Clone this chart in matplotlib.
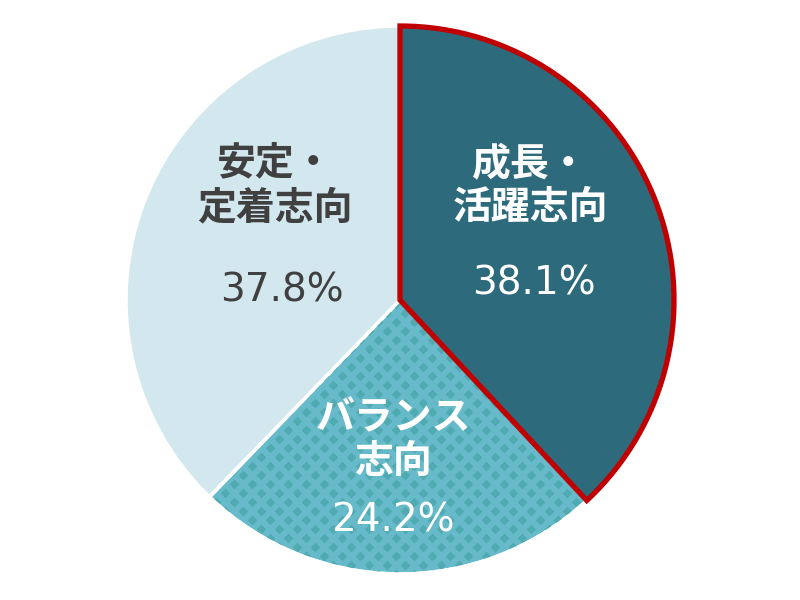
import matplotlib
matplotlib.use('Agg')
import matplotlib.pyplot as plt
from matplotlib.patches import Wedge
import numpy as np

# data
labels = ['成長・\n活躍志向', 'バランス\n志向', '安定・\n定着志向']
values = [38.1, 24.2, 37.8]
pct_labels = ['38.1%', '24.2%', '37.8%']

colors = ['#2d6a7b', '#66bac9', '#d3e8ee']
text_colors = ['white', 'white', '#404040']
# text positions (data units, radius = 1)
label_pos = [(0.474, 0.416), (-0.026, -0.511), (-0.456, 0.416)]
pct_pos = [(0.487, 0.062), (-0.026, -0.803), (-0.431, 0.036)]

plt.rcParams['font.family'] = ['Noto Sans CJK JP', 'DejaVu Sans']

fig = plt.figure(figsize=(8, 6), dpi=100)
ax = fig.add_axes([0, 0, 1, 1])

wedges, _ = ax.pie(values, colors=colors, startangle=90, counterclock=False,
                   radius=1, center=(0, 0), frame=True,
                   wedgeprops=dict(edgecolor='white', linewidth=2.5))
ax.set_xlim(-400 / 274, 400 / 274)
ax.set_ylim(-300 / 274, 300 / 274)
ax.set_aspect('equal')
ax.axis('off')

# red outline on the first slice
wedges[0].set_edgecolor('#c00000')
wedges[0].set_linewidth(3.8)
wedges[0].set_zorder(5)

# diamond pattern on the middle slice
step = 18 / 274
gx, gy = [], []
for j, yy in enumerate(np.arange(-1.1, 1.1, step / 2)):
    off = 0 if j % 2 == 0 else step / 2
    for xx in np.arange(-1.1 + off, 1.1, step):
        gx.append(xx)
        gy.append(yy)
pat = ax.scatter(gx, gy, marker='D', s=24, color='#50aab1', linewidths=0, zorder=2)
pat.set_clip_path(wedges[1])
wedges[1].set_zorder(1)

# white border back on top of the pattern
w = wedges[1]
ax.add_patch(Wedge(w.center, w.r, w.theta1, w.theta2, fill=False,
                   edgecolor='white', linewidth=2.5, zorder=3))

for i in range(len(labels)):
    ax.text(label_pos[i][0], label_pos[i][1], labels[i], ha='center', va='center',
            fontsize=28, fontweight='bold', color=text_colors[i], linespacing=1.15,
            zorder=6)
    ax.text(pct_pos[i][0], pct_pos[i][1], pct_labels[i], ha='center', va='center',
            fontsize=28, color=text_colors[i], family='DejaVu Sans', zorder=6)

fig.savefig('out.png', dpi=100, facecolor='white')
